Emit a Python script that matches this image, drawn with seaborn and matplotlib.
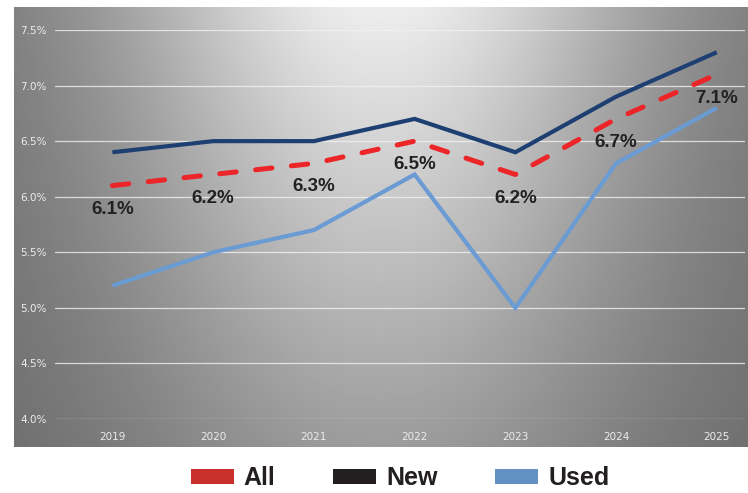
import numpy as np
import pandas as pd
import seaborn as sns
import matplotlib
matplotlib.use("Agg")
import matplotlib.pyplot as plt
from matplotlib.patches import Patch

years = [2019, 2020, 2021, 2022, 2023, 2024, 2025]
all_vals = [6.1, 6.2, 6.3, 6.5, 6.2, 6.7, 7.1]
new_vals = [6.4, 6.5, 6.5, 6.7, 6.4, 6.9, 7.3]
used_vals = [5.2, 5.5, 5.7, 6.2, 5.0, 6.3, 6.8]
y_ticks = [4.0, 4.5, 5.0, 5.5, 6.0, 6.5, 7.0, 7.5]
series_names = ["All", "New", "Used"]
colors = {"All": "#ec2528", "New": "#1d3f72", "Used": "#6a9bd2"}
legend_colors = {"All": "#c8302c", "New": "#231f20", "Used": "#6391c3"}

sns.set_style("white")
plt.rcParams["font.family"] = ["DejaVu Sans"]

W, H = 748, 493
fig = plt.figure(figsize=(W / 100, H / 100), dpi=100)

# gradient background panel
bx0, bx1, by0, by1 = 14, 748, 7, 447
bg = fig.add_axes([bx0 / W, 1 - by1 / H, (bx1 - bx0) / W, (by1 - by0) / H], zorder=0)
nx, ny = 400, 240
xs = np.linspace(-1, 1, nx)
ys = np.linspace(0, 1, ny)  # 0 top, 1 bottom
X, Y = np.meshgrid(xs, ys)
horiz = np.exp(-(X / 0.75) ** 2)
vert = 1 - 0.6 * Y
val = 0.41 + 0.50 * horiz * vert + 0.02 * (1 - Y)
val = np.clip(val, 0, 1)
bg.imshow(val, cmap="gray", vmin=0, vmax=1, aspect="auto", interpolation="bilinear")
bg.axis("off")

# main axes
ax_l, ax_r, ax_t, ax_b = 55, 745, 30, 419
ax = fig.add_axes([ax_l / W, 1 - ax_b / H, (ax_r - ax_l) / W, (ax_b - ax_t) / H], zorder=1)
ax.set_facecolor("none")

df = pd.DataFrame({"year": years, "All": all_vals, "New": new_vals, "Used": used_vals})

sns.lineplot(data=df, x="year", y="Used", ax=ax, color=colors["Used"], linewidth=3.0, zorder=3)
sns.lineplot(data=df, x="year", y="New", ax=ax, color=colors["New"], linewidth=3.0, zorder=4)
sns.lineplot(data=df, x="year", y="All", ax=ax, color=colors["All"], linewidth=3.6, zorder=5)
for ln in ax.lines:
    ln.set_clip_on(False)
    ln.set_solid_capstyle("butt")
    ln.set_solid_joinstyle("miter")
ax.lines[-1].set_dashes([3.3, 3.9])
ax.lines[-1].set_dash_capstyle("round")

for x, v in zip(years, all_vals):
    ax.annotate(f"{v:.1f}%", (x, v), xytext=(0, -17), textcoords="offset points",
                ha="center", va="center", fontsize=13.5, fontweight="bold", color="#222222",
                family=["Liberation Sans", "DejaVu Sans"], zorder=6)

ax.set_xlim(2018.43, 2025.28)
ax.set_ylim(4.0, 7.5)
ax.set_yticks(y_ticks)
ax.set_yticklabels([f"{t:.1f}%" for t in y_ticks])
ax.set_xticks(years)
ax.set_xticklabels([str(y) for y in years])
ax.tick_params(axis="both", length=0, labelsize=7.5, labelcolor="#ececec")
ax.tick_params(axis="y", pad=6)
ax.tick_params(axis="x", pad=9)
ax.grid(axis="y", color="#f2f2f2", linewidth=0.9, alpha=0.8)
ax.grid(axis="x", visible=False)
ax.set_xlabel("")
ax.set_ylabel("")
for s in ax.spines.values():
    s.set_visible(False)

handles = [Patch(facecolor=legend_colors[n], edgecolor="none") for n in series_names]
leg = fig.legend(handles, series_names, loc="center", bbox_to_anchor=(400 / W, 1 - 478 / H), ncol=3,
                 frameon=False,
                 prop={"weight": "bold", "size": 18, "family": ["Liberation Sans", "DejaVu Sans"]},
                 handlelength=1.72, handleheight=0.56, handletextpad=0.4, columnspacing=2.3)
for t in leg.get_texts():
    t.set_color("#231f20")

fig.savefig("out.png", dpi=100, facecolor="white")
